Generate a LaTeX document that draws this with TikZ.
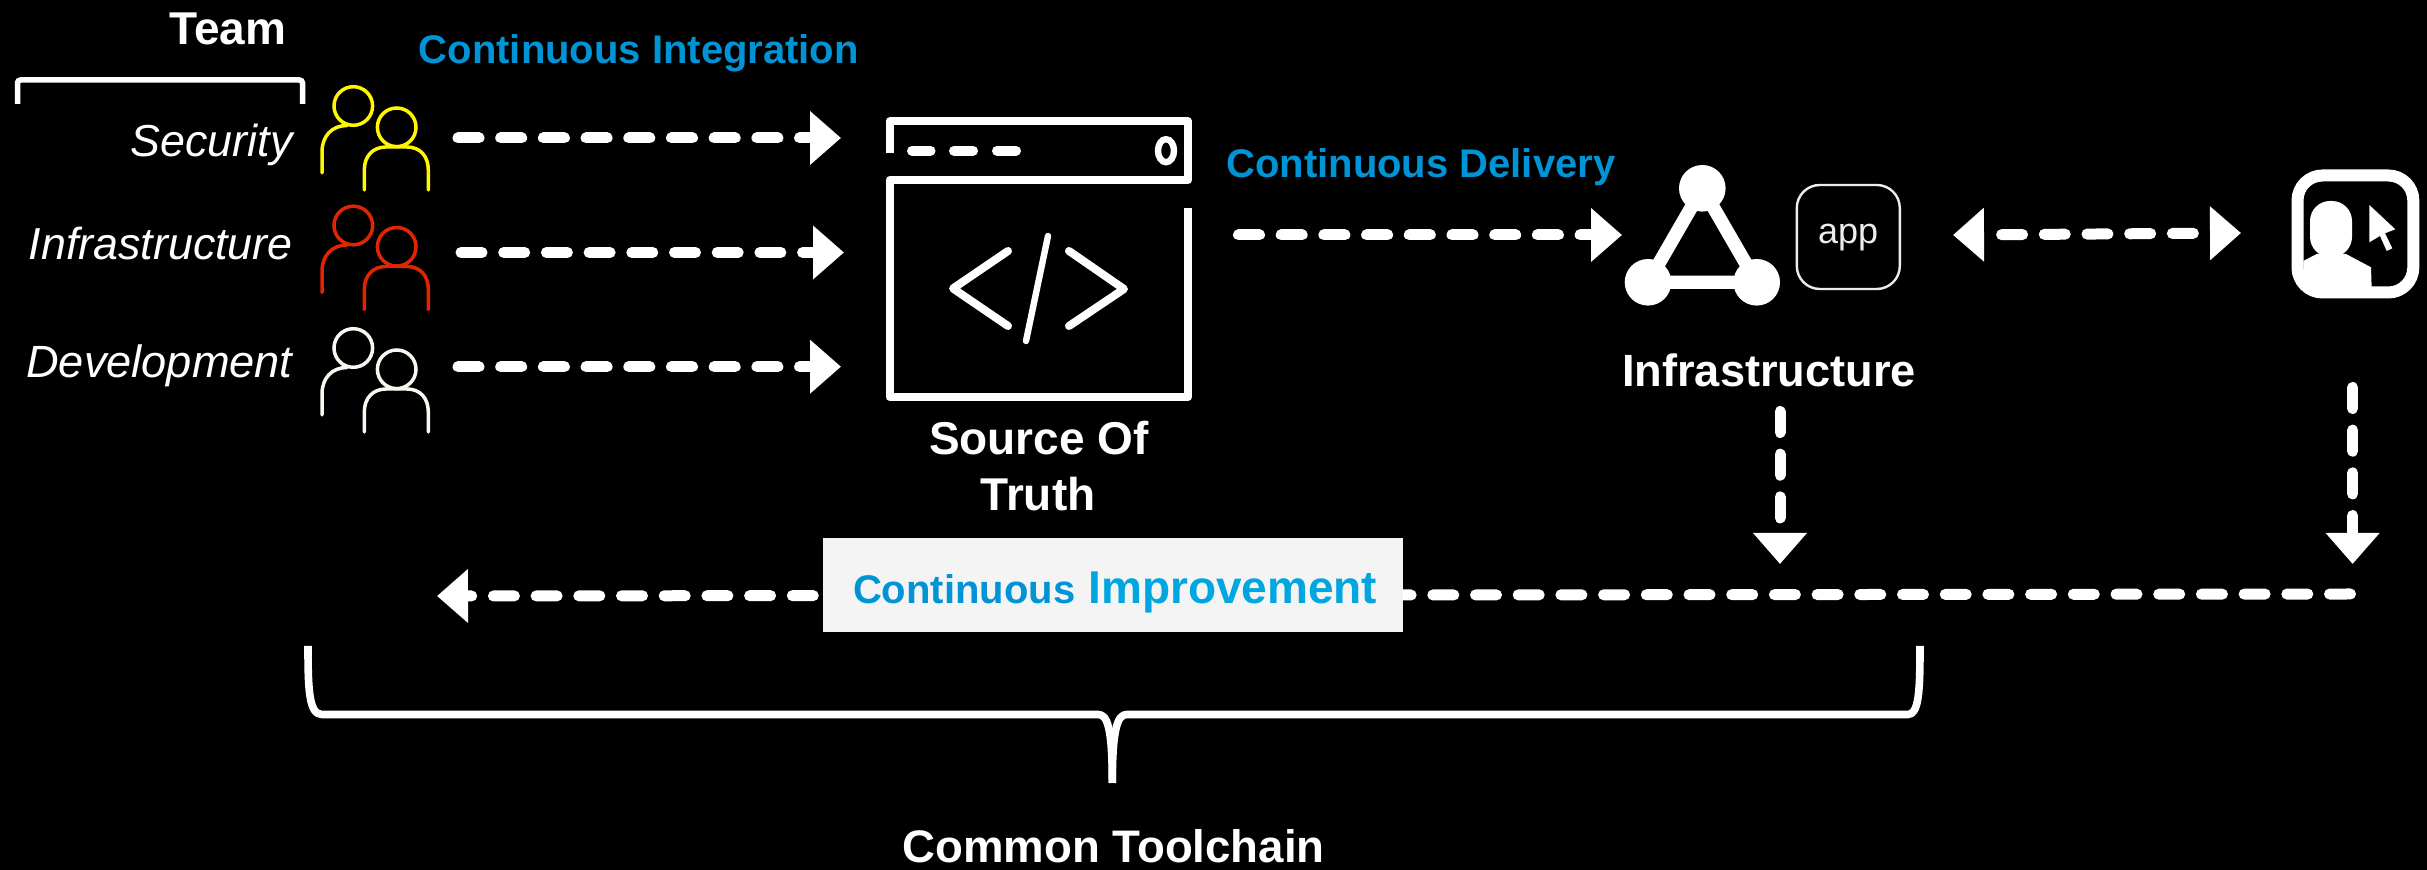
\documentclass[tikz,border=0pt]{standalone}
\usepackage{fontspec}
\setmainfont{Liberation Sans}
\usetikzlibrary{arrows.meta}
\definecolor{ciblue}{HTML}{0094D6}
\definecolor{imblue}{HTML}{00A6E0}
\definecolor{boxgrey}{HTML}{F4F4F4}
\definecolor{pyellow}{HTML}{FFF700}
\definecolor{pred}{HTML}{E32400}
\definecolor{pwhite}{HTML}{F8F8F0}
\tikzset{
  x=0.5pt,y=-0.5pt,
  flow/.style={draw=white,line width=5.5pt,line cap=round,dash pattern=on 10.5pt off 10.85pt},
  flowto/.style={flow,-{Triangle[length=15.5pt,width=26pt]}},
  flowboth/.style={flow,dash phase=11.6pt,{Triangle[length=15.5pt,width=26pt]}-{Triangle[length=15.5pt,width=26pt]}},
  person/.style={line width=1.75pt,line cap=round},
  winline/.style={draw=white,line width=4pt,line join=round},
  codeline/.style={draw=white,line width=4pt,line cap=round,line join=round},
  roletext/.style={text=white,inner sep=0pt,anchor=base east,font=\fontsize{22.4pt}{26pt}\selectfont\itshape},
  headtext/.style={text=white,inner sep=0pt,anchor=base,font=\fontsize{23pt}{27pt}\selectfont\bfseries},
  citext/.style={text=ciblue,inner sep=0pt,anchor=base west,font=\fontsize{20pt}{24pt}\selectfont\bfseries},
}
\newcommand{\peopleicon}[2]{%
  \begin{scope}[shift={(0,#1)},draw=#2,person]
    \draw (353.3,106) ellipse [x radius=19.3,y radius=19.3];
    \draw (396.7,127.3) ellipse [x radius=19.3,y radius=19.3];
    \draw (322,173) -- (322,152) .. controls (322,136) and (332,125.5) .. (347,125.5);
    \draw (364.3,190) -- (364.3,170) .. controls (364.3,156) and (373,147) .. (386,147) -- (407,147) .. controls (420,147) and (428.3,156) .. (428.3,170) -- (428.3,190);
  \end{scope}}
\begin{document}
\begin{tikzpicture}
\useasboundingbox (0,0) rectangle (2427,870);
\fill[black] (0,0) rectangle (2427,870);

% Team header
\node[headtext] (team) at (228,45) {Team};
\draw[draw=white,line width=2.75pt,rounded corners=1.5pt] (17.5,104) -- (17.5,80) -- (302.5,80) -- (302.5,104);

\node[roletext] (security) at (293,157) {Security};
\node[roletext] (infra) at (293,260) {Infrastructure};
\node[roletext,font=\fontsize{22.6pt}{26pt}\selectfont\itshape] (dev) at (293,378) {Development};

\peopleicon{0}{pyellow}
\peopleicon{119.5}{pred}
\peopleicon{242}{pwhite}

\node[citext] (ci) at (418.5,64) {Continuous Integration};
\node[citext] (cd) at (1226,178) {Continuous Delivery};

% CI connectors
\coordinate (secfrom) at (458,138);
\coordinate (secto) at (841,138);
\coordinate (infrom) at (461,252.5);
\coordinate (into) at (844,252.5);
\coordinate (devfrom) at (458,366.7);
\coordinate (devto) at (841,366.7);
\draw[flowto] (secfrom) -- (secto);
\draw[flowto] (infrom) -- (into);
\draw[flowto] (devfrom) -- (devto);

% Source window icon
\draw[winline] (889.5,153) -- (889.5,121.5) -- (1188,121.5) -- (1188,180) -- (889.5,180) -- (889.5,397) -- (1188,397) -- (1188,208);
\draw[draw=white,line width=5pt,line cap=round] (912,150.7) -- (930.5,150.7);
\draw[draw=white,line width=5pt,line cap=round] (954,150.7) -- (973,150.7);
\draw[draw=white,line width=5pt,line cap=round] (997,150.7) -- (1016,150.7);
\draw[draw=white,line width=3.2pt] (1166,150.7) ellipse [x radius=8,y radius=11.5];
\draw[codeline] (1008,251) -- (953,288.5) -- (1008,326);
\draw[codeline] (1069,251) -- (1124,289) -- (1069,326);
\draw[codeline,line width=3.2pt] (1048,236) -- (1026,341);
\node[headtext] (sot1) at (1039,455) {Source Of};
\node[headtext] (sot2) at (1038,511) {Truth};

% CD connector
\coordinate (cdfrom) at (1238.5,235);
\coordinate (cdto) at (1622,235);
\draw[flowto] (cdfrom) -- (cdto);

% Infrastructure icon
\coordinate (ntop) at (1702.3,188.3);
\coordinate (nleft) at (1648,282.3);
\coordinate (nright) at (1756.7,282.3);
\draw[draw=white,line width=6.7pt,line join=round] (ntop) -- (nleft) -- (nright) -- cycle;
\fill[white] (ntop) circle [x radius=23.3,y radius=23.3];
\fill[white] (nleft) circle [x radius=23.3,y radius=23.3];
\fill[white] (nright) circle [x radius=23.3,y radius=23.3];
\node[draw=white!93!black,line width=1.2pt,rounded corners=11.5pt,minimum width=51.5pt,minimum height=52pt,inner sep=0pt] (appbox) at (1848.3,237) {};
\node[text=white!93!black,inner sep=0pt,anchor=base,font=\fontsize{18pt}{22pt}\selectfont] (app) at (1848.2,243.3) {app};
\node[headtext,font=\fontsize{22.6pt}{27pt}\selectfont\bfseries] (infratext) at (1769,387) {Infrastructure};

% Double arrow
\coordinate (dblleft) at (1953,235);
\coordinate (dblright) at (2241,233);
\draw[flowboth] (dblleft) -- (dblright);

% User icon
\draw[draw=white,line width=6pt,rounded corners=12.5pt] (2297.5,175.5) rectangle (2413.3,292.5);
\fill[white,rounded corners=10pt] (2310,201) rectangle (2352,257);
\fill[white] (2303.3,261) -- (2316.7,254) -- (2346,254) -- (2371,267.3) -- (2371.7,290) -- (2303.3,290) -- cycle;
\fill[white] (2369.3,205) -- (2395.3,229.3) -- (2385,233.3) -- (2392.3,248.3) -- (2386.7,251) -- (2380,236) -- (2369.3,242.3) -- cycle;

% Downward connectors
\coordinate (d1from) at (1780,411.5);
\coordinate (d1to) at (1780,564);
\coordinate (d2from) at (2352.6,387.5);
\coordinate (d2to) at (2352.6,564);
\draw[flowto] (d1from) -- (d1to);
\draw[flowto] (d2from) -- (d2to);

% Improvement line and box
\coordinate (ifrom) at (2350.5,594);
\coordinate (ito) at (437,596);
\draw[flowto] (ifrom) -- (ito);
\node[fill=boxgrey,draw=none,minimum width=289.6pt,minimum height=47pt,inner sep=0pt] (improve) at (1113,585) {};
\node[inner sep=0pt,anchor=base west,text=ciblue,font=\fontsize{20pt}{24pt}\selectfont\bfseries] (cont) at (852.7,604) {Continuous};
\node[inner sep=0pt,anchor=base west,text=imblue,font=\fontsize{23pt}{27pt}\selectfont\bfseries] (impr) at (1088,604) {Improvement};

% Toolchain brace
\draw[draw=white,line width=3.8pt,line join=round] (308,646) .. controls (308,690) and (309,714.5) .. (322,714.5) -- (1098,714.5) .. controls (1107,714.5) and (1112.3,726) .. (1112.3,783);
\draw[draw=white,line width=3.8pt,line join=round] (1920,646) .. controls (1920,690) and (1919,714.5) .. (1908,714.5) -- (1127,714.5) .. controls (1118,714.5) and (1112.3,726) .. (1112.3,783);
\node[headtext,font=\fontsize{22.8pt}{27pt}\selectfont\bfseries] (tool) at (1113.5,863) {Common Toolchain};
\end{tikzpicture}
\end{document}
